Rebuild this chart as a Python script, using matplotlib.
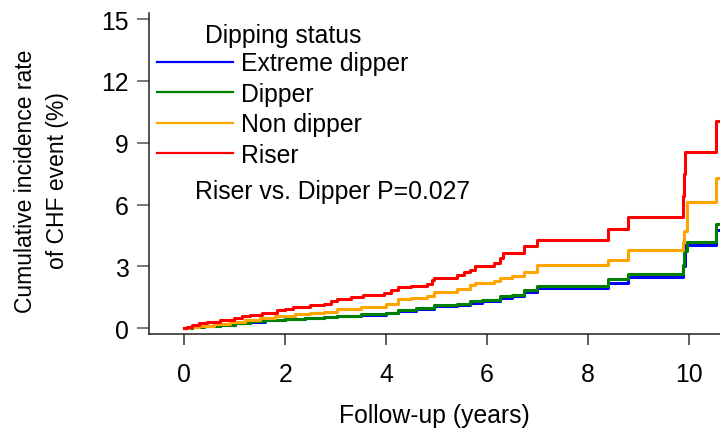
import matplotlib.pyplot as plt
from matplotlib.lines import Line2D

plt.rcParams['font.family'] = ['Liberation Sans', 'DejaVu Sans']

# Cumulative incidence (%) step points
groups = ["Extreme dipper", "Dipper", "Non dipper", "Riser"]
colors = ["#0000FF", "#008000", "#FFA500", "#FF0000"]

extreme_t = [0, 0.15, 0.4, 0.7, 1.0, 1.31, 1.6, 2.0, 2.4, 2.76, 3.02, 3.5, 4.0, 4.24, 4.6,
             4.94, 5.4, 5.66, 5.9, 6.26, 6.5, 6.72, 6.98, 8.40, 8.79, 9.88, 9.92, 10.53]
extreme_v = [0, 0.04, 0.09, 0.16, 0.23, 0.32, 0.38, 0.43, 0.48, 0.53, 0.58, 0.65, 0.72, 0.86, 0.94,
             1.07, 1.15, 1.24, 1.32, 1.48, 1.55, 1.78, 1.94, 2.21, 2.48, 3.00, 4.05, 4.77]

dipper_t = [0, 0.15, 0.4, 0.7, 1.0, 1.31, 1.6, 2.0, 2.4, 2.76, 3.02, 3.5, 4.0, 4.24, 4.6,
            4.94, 5.4, 5.66, 5.9, 6.26, 6.5, 6.72, 6.98, 8.40, 8.79, 9.88, 9.90, 9.95, 10.53]
dipper_v = [0, 0.05, 0.10, 0.18, 0.25, 0.35, 0.40, 0.45, 0.50, 0.55, 0.60, 0.68, 0.75, 0.90, 0.98,
            1.12, 1.20, 1.30, 1.38, 1.55, 1.62, 1.85, 2.05, 2.37, 2.64, 3.09, 3.75, 4.20, 5.05]

nondipper_t = [0, 0.1, 0.3, 0.6, 0.9, 1.2, 1.5, 1.8, 2.2, 2.5, 2.76, 3.02, 3.5, 4.0, 4.24, 4.5,
               4.81, 4.94, 5.4, 5.66, 5.76, 6.13, 6.26, 6.5, 6.72, 6.98, 8.40, 8.79, 9.88, 9.90,
               9.95, 10.53]
nondipper_v = [0, 0.05, 0.12, 0.22, 0.30, 0.40, 0.50, 0.58, 0.68, 0.74, 0.78, 0.92, 1.05, 1.20, 1.40,
               1.45, 1.55, 1.75, 1.90, 2.10, 2.20, 2.30, 2.45, 2.55, 2.75, 3.05, 3.33, 3.81, 4.20,
               4.70, 6.14, 7.29]

riser_t = [0, 0.05, 0.15, 0.3, 0.45, 0.7, 0.98, 1.15, 1.31, 1.55, 1.84, 2.0, 2.16, 2.5, 2.76, 2.9,
           3.02, 3.3, 3.55, 3.95, 4.1, 4.24, 4.5, 4.81, 4.9, 4.94, 5.4, 5.55, 5.66, 5.76, 6.13,
           6.26, 6.32, 6.72, 6.98, 8.40, 8.79, 9.88, 9.90, 9.92, 10.53]
riser_v = [0, 0.08, 0.15, 0.25, 0.32, 0.40, 0.50, 0.58, 0.66, 0.75, 0.88, 0.95, 1.05, 1.12, 1.17, 1.30,
           1.40, 1.50, 1.60, 1.70, 1.85, 2.00, 2.05, 2.15, 2.35, 2.45, 2.60, 2.75, 2.85, 3.00, 3.15,
           3.40, 3.65, 4.00, 4.30, 4.80, 5.40, 6.40, 7.50, 8.55, 10.06]

follow_up_end = 10.7

x_ticks = [0, 2, 4, 6, 8, 10]
y_ticks = [0, 3, 6, 9, 12, 15]

fs = 17.8

fig = plt.figure(figsize=(7.2, 4.35), dpi=100)
ax = fig.add_axes([0.2074, 0.2299, 0.7926, 0.7379])

series = [(extreme_t, extreme_v), (dipper_t, dipper_v), (nondipper_t, nondipper_v), (riser_t, riser_v)]
for (t, v), c in zip(series, colors):
    ax.step(t + [follow_up_end], v + [v[-1]], where="post", color=c, lw=2.2)

ax.set_xlim(-0.69, 10.61)
ax.set_ylim(-0.28, 15.3)
ax.set_xticks(x_ticks)
ax.set_yticks(y_ticks)
ax.tick_params(axis="x", direction="out", length=8, width=1.1, pad=12, labelsize=fs, color="#333333")
ax.tick_params(axis="y", direction="out", length=9, width=1.1, pad=6, labelsize=fs, color="#555555")

for s in ["top", "right"]:
    ax.spines[s].set_visible(False)
for s in ["left", "bottom"]:
    ax.spines[s].set_linewidth(1.1)
    ax.spines[s].set_color("#222222")

ax.set_xlabel("Follow-up (years)", fontsize=fs, va="center")
ax.xaxis.set_label_coords(0.5, -0.252)
ax.set_ylabel("Cumulative incidence rate\nof CHF event (%)", fontsize=16.5, linespacing=1.5,
              va="center")
ax.yaxis.set_label_coords(-0.189, 0.48)

handles = [Line2D([], [], color=c, lw=1.6) for c in colors]
leg = ax.legend(handles, groups, title="Dipping status", loc="upper left",
                bbox_to_anchor=(0.014, 0.968), frameon=False, fontsize=fs, title_fontsize=fs,
                handlelength=3.05, handletextpad=0.33, labelspacing=0.26, borderpad=0,
                borderaxespad=0)
leg._legend_box.sep = 3

ax.text(0.080, 0.445, "Riser vs. Dipper P=0.027", transform=ax.transAxes,
        fontsize=fs, ha="left", va="center")

plt.savefig("out.png", dpi=100)
